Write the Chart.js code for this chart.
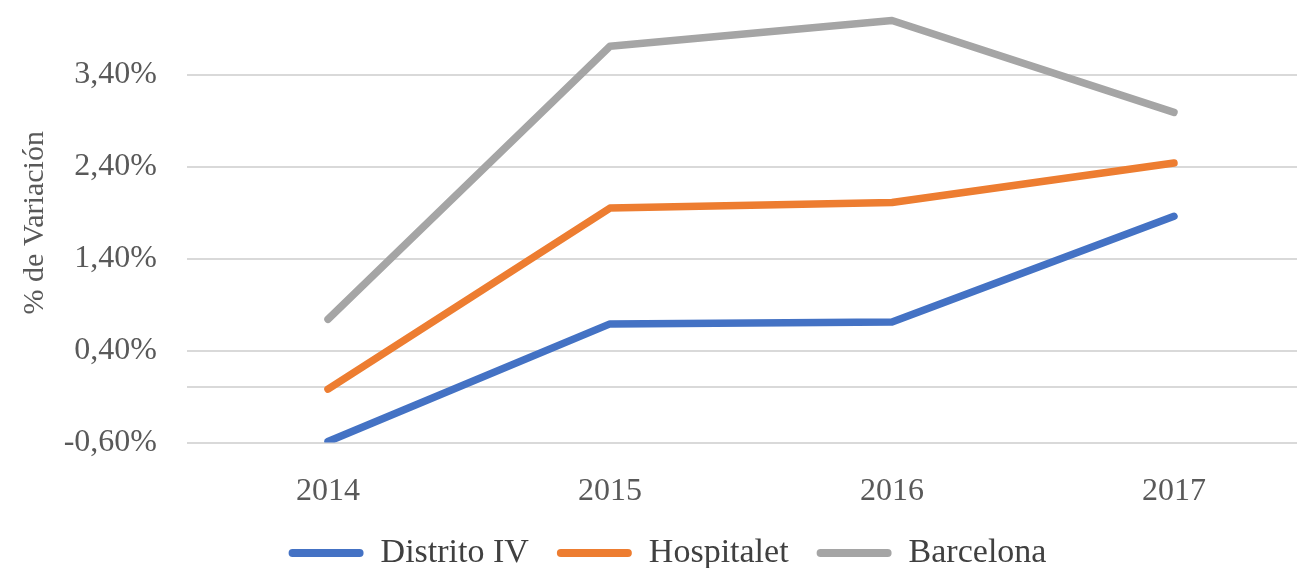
<!DOCTYPE html>
<html>
<head>
<meta charset="utf-8">
<script src="https://cdn.jsdelivr.net/npm/chart.js@4/dist/chart.umd.min.js"></script>
<style>
  html, body { margin: 0; padding: 0; background: #fff; overflow: hidden; }
  #caja { position: relative; width: 1320px; height: 580px; }
</style>
</head>
<body>
<div id="caja"><canvas id="grafica"></canvas></div>
<script>
// datos
const anos = ['2014', '2015', '2016', '2017'];
const distritoIV = [-0.59, 0.69, 0.71, 1.86];
const hospitalet = [-0.02, 1.95, 2.01, 2.44];
const barcelona = [0.74, 3.71, 3.99, 2.99];
const marcasY = [-0.6, 0, 0.4, 1.4, 2.4, 3.4];

const letra = 'Liberation Serif, Times New Roman, serif';
const gris = '#595959';

const ctx = document.getElementById('grafica');
const myChart = new Chart(ctx, {
    type: 'line',
    data: {
        labels: anos,
        datasets: [{
            label: 'Distrito IV',
            data: distritoIV,
            borderColor: '#4472C4',
            backgroundColor: '#4472C4'
        }, {
            label: 'Hospitalet',
            data: hospitalet,
            borderColor: '#ED7D31',
            backgroundColor: '#ED7D31'
        }, {
            label: 'Barcelona',
            data: barcelona,
            borderColor: '#A5A5A5',
            backgroundColor: '#A5A5A5'
        }]
    },
    options: {
        responsive: true,
        maintainAspectRatio: false,
        animation: false,
        datasets: {
            line: {
                borderWidth: 7.5,
                pointRadius: 0,
                tension: 0,
                borderCapStyle: 'round',
                borderJoinStyle: 'round'
            }
        },
        layout: { padding: { top: 0, right: 5, left: 20, bottom: 0 } },
        plugins: {
            tooltip: { enabled: false },
            legend: {
                position: 'bottom',
                labels: {
                    color: '#404040',
                    font: { family: letra, size: 34 },
                    boxWidth: 75,
                    boxHeight: 8,
                    padding: 28,
                    useBorderRadius: true,
                    borderRadius: 4,
                    generateLabels: chart => chart.data.datasets.map((ds, i) => ({
                        text: ds.label,
                        fillStyle: ds.borderColor,
                        strokeStyle: ds.borderColor,
                        lineWidth: 0,
                        borderRadius: 4,
                        fontColor: '#404040',
                        datasetIndex: i
                    }))
                }
            }
        },
        scales: {
            x: {
                offset: true,
                grid: { display: false },
                border: { display: false },
                afterFit: scale => { scale.height = 65.5; },
                ticks: {
                    color: gris,
                    font: { family: letra, size: 32 },
                    padding: 22
                }
            },
            y: {
                min: -0.6,
                max: 4.18,
                afterBuildTicks: scale => {
                    scale.ticks = marcasY.map(v => ({ value: v }));
                },
                afterFit: scale => {
                    scale.width = 167;
                    scale.paddingTop = 3;
                    scale.paddingBottom = 0;
                },
                grid: { color: '#D9D9D9', lineWidth: 2, drawTicks: false },
                border: { display: false },
                ticks: {
                    color: gris,
                    font: { family: letra, size: 32 },
                    padding: 30,
                    callback: v => v === 0 ? '' : v.toFixed(2).replace('.', ',') + '%'
                },
                title: {
                    display: true,
                    text: '% de Variación',
                    color: gris,
                    font: { family: letra, size: 30 },
                    padding: { top: -3, bottom: 0 }
                }
            }
        }
    }
});
</script>
</body>
</html>
